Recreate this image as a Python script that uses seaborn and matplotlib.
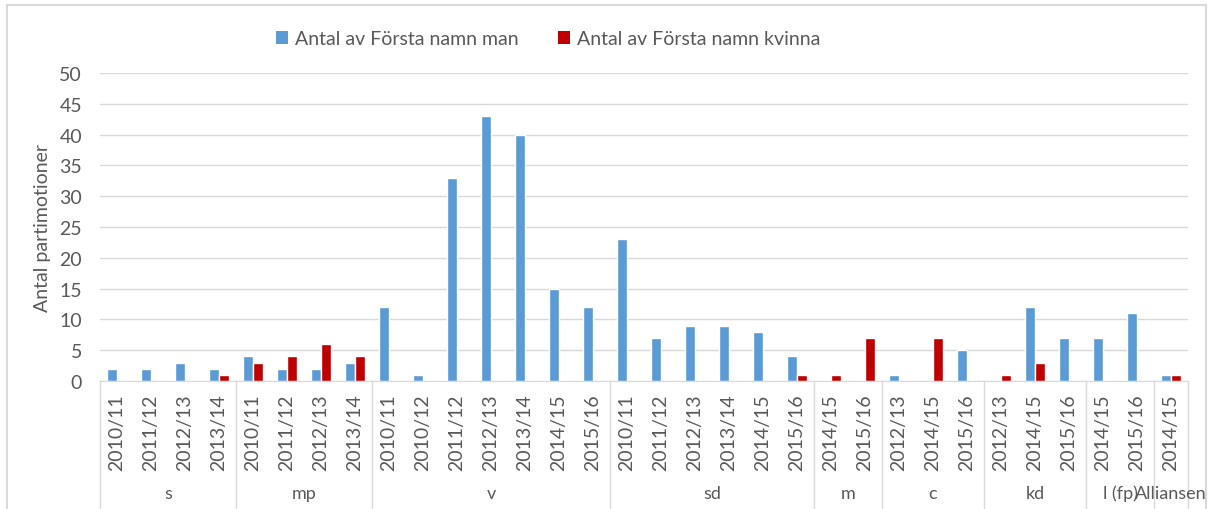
import numpy as np
import pandas as pd
import matplotlib
matplotlib.use("Agg")
import matplotlib.pyplot as plt
import seaborn as sns
from matplotlib.patches import Rectangle, Patch

# ======================================
# Data
# ======================================

parties = ["s", "mp", "v", "sd", "m", "c", "kd", "l (fp)", "Alliansen"]

years = [
    ["2010/11", "2011/12", "2012/13", "2013/14"],
    ["2010/11", "2011/12", "2012/13", "2013/14"],
    ["2010/11", "2010/12", "2011/12", "2012/13", "2013/14", "2014/15", "2015/16"],
    ["2010/11", "2011/12", "2012/13", "2013/14", "2014/15", "2015/16"],
    ["2014/15", "2015/16"],
    ["2012/13", "2014/15", "2015/16"],
    ["2012/13", "2014/15", "2015/16"],
    ["2014/15", "2015/16"],
    ["2014/15"],
]

men = [
    [2, 2, 3, 2],
    [4, 2, 2, 3],
    [12, 1, 33, 43, 40, 15, 12],
    [23, 7, 9, 9, 8, 4],
    [0, 0],
    [1, 0, 5],
    [0, 12, 7],
    [7, 11],
    [1],
]

women = [
    [0, 0, 0, 1],
    [3, 4, 6, 4],
    [0, 0, 0, 0, 0, 0, 0],
    [0, 0, 0, 0, 0, 1],
    [1, 7],
    [0, 7, 0],
    [1, 3, 0],
    [0, 0],
    [1],
]

series_names = ["Antal av Första namn man", "Antal av Första namn kvinna"]
colors = ["#5B9BD5", "#C00000"]
text_color = "#595959"

# ======================================
# Long table
# ======================================

rows = []
for p, yrs, m, w in zip(parties, years, men, women):
    for y, vm, vw in zip(yrs, m, w):
        key = p + "|" + y
        rows.append({"key": key, "serie": series_names[0], "antal": vm})
        rows.append({"key": key, "serie": series_names[1], "antal": vw})

df = pd.DataFrame(rows)
keys = list(dict.fromkeys(df["key"]))

# ======================================
# Plot
# ======================================

sns.set_style("white")
plt.rcParams["font.family"] = ["Lato", "DejaVu Sans"]

fig = plt.figure(figsize=(12.13, 5.10), dpi=100)
ax = fig.add_axes([100 / 1213, 128 / 510, 1088 / 1213, 308 / 510])

sns.barplot(
    data=df,
    x="key",
    y="antal",
    hue="serie",
    order=keys,
    hue_order=series_names,
    palette=colors,
    width=0.6,
    gap=0,
    saturation=1,
    legend=False,
    ax=ax,
)

ax.set_xlim(-0.5, len(keys) - 0.5)
ax.set_ylim(0, 50)
ax.set_yticks(np.arange(0, 51, 5))
ax.yaxis.grid(True, color="#D9D9D9", linewidth=1)
ax.set_axisbelow(True)
for s in ["top", "right", "left"]:
    ax.spines[s].set_visible(False)
ax.spines["bottom"].set_color("#D9D9D9")

ax.set_xticks(range(len(keys)))
ax.set_xticklabels([k.split("|")[1] for k in keys], rotation=90, fontsize=14,
                   color=text_color)
ax.tick_params(axis="x", length=0, pad=9)
ax.tick_params(axis="y", length=0, pad=13, labelsize=14, labelcolor=text_color)

ax.set_xlabel("")
ax.set_ylabel("Antal partimotioner", fontsize=14, color=text_color, labelpad=6)

# group separators and party labels
trans = ax.get_xaxis_transform()
bottom = -128 / 308
start = 0
ax.plot([-0.5, -0.5], [0, bottom], transform=trans, color="#D9D9D9",
        linewidth=1, clip_on=False)
for p, yrs in zip(parties, years):
    end = start + len(yrs)
    ax.plot([end - 0.5, end - 0.5], [0, bottom], transform=trans,
            color="#D9D9D9", linewidth=1, clip_on=False)
    ax.text((start + end - 1) / 2, -112 / 308, p, transform=trans,
            ha="center", va="center", fontsize=13, color=text_color)
    start = end

# legend
handles = [Patch(facecolor=c, edgecolor="none") for c in colors]
fig.legend(
    handles,
    series_names,
    loc="center",
    bbox_to_anchor=(0.452, 1 - 40 / 510),
    ncol=2,
    frameon=False,
    handlelength=0.6,
    handleheight=0.6,
    handletextpad=0.4,
    columnspacing=2.0,
    prop={"size": 14},
    labelcolor=text_color,
)

# chart border
fig.patches.append(Rectangle((7 / 1213, -0.01), 1199 / 1213, 1 - 6 / 510 + 0.01,
                             transform=fig.transFigure, fill=False,
                             edgecolor="#D9D9D9", linewidth=1.5))

fig.savefig("out.png", dpi=100)
